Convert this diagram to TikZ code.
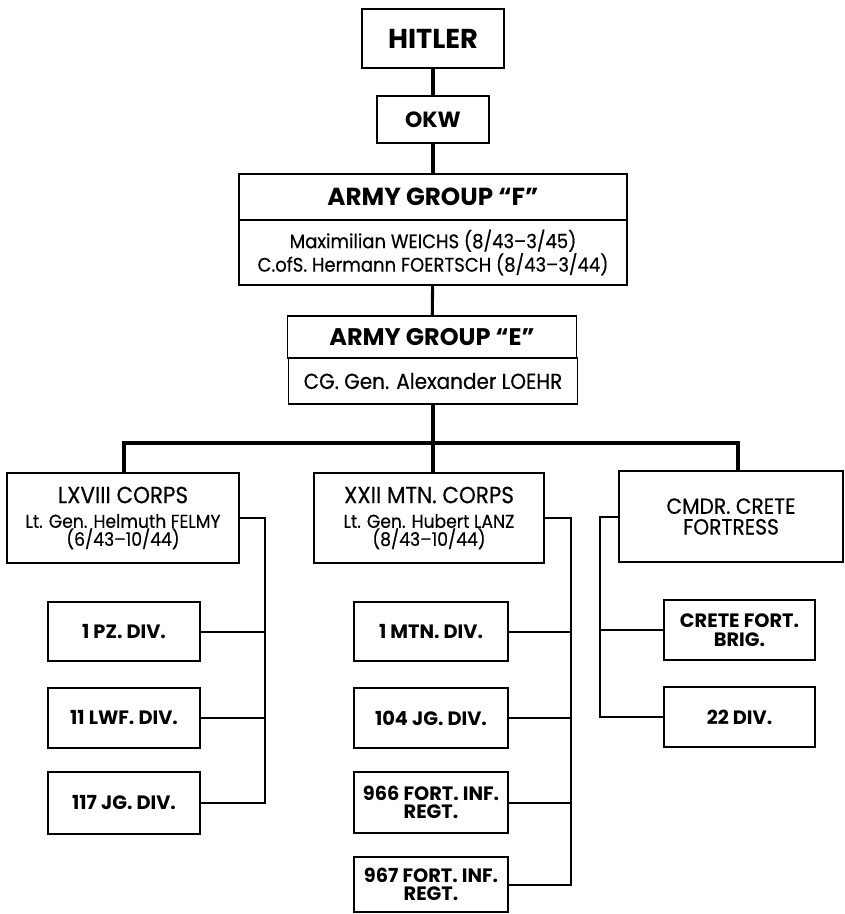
\documentclass[tikz,border=0pt]{standalone}
\usepackage{fontspec}
\setmainfont{Poppins}
\newfontfamily\cond{Poppins}
\newfontfamily\semi[FakeStretch=0.92,FakeBold=0.4]{Poppins}
\begin{document}
\begin{tikzpicture}[x=0.75pt,y=-0.75pt,
  box/.style={draw, line width=1.4pt, inner sep=0pt, outer sep=0pt, align=center},
  conn/.style={line width=1.5pt},
  thick conn/.style={line width=2.3pt},
  divtext/.style={font=\cond\bfseries\fontsize{14.5}{14}\selectfont},
  corpstext/.style={font=\semi\fontsize{14}{13.5}\selectfont}]
\useasboundingbox (0,0) rectangle (844,914);
% top stack
\node[box, minimum width=142*0.75pt, minimum height=59*0.75pt, font=\bfseries\fontsize{20.5}{20}\selectfont] (hitler) at (433,38.5) {HITLER};
\node[box, minimum width=112*0.75pt, minimum height=47*0.75pt, font=\bfseries\fontsize{16.5}{16}\selectfont] (okw) at (433,119.5) {OKW};
\node[box, minimum width=388*0.75pt, minimum height=46*0.75pt, font=\bfseries\fontsize{18.5}{18}\selectfont] (agf) at (433,197) {ARMY GROUP “F”};
\node[box, minimum width=388*0.75pt, minimum height=65*0.75pt, font=\semi\fontsize{14.7}{16.5}\selectfont, anchor=north] (agfc) at (agf.south) {Maximilian WEICHS (8/43–3/45)\\C.ofS. Hermann FOERTSCH (8/43–3/44)};
\node[box, minimum width=289*0.75pt, minimum height=42*0.75pt, font=\bfseries\fontsize{18}{18}\selectfont] (age) at (432,337) {ARMY GROUP “E”};
\node[box, minimum width=289*0.75pt, minimum height=46*0.75pt, font=\semi\fontsize{16.3}{16}\selectfont, anchor=north] (agec) at (agf.south |- age.south) {CG. Gen. Alexander LOEHR};
% corps
\node[box, minimum width=232*0.75pt, minimum height=90*0.75pt, corpstext] (lx) at (123,518) {{\fontsize{17.5}{17.5}\selectfont LXVIII CORPS}\\[5pt]Lt. Gen. Helmuth FELMY\\(6/43–10/44)};
\node[box, minimum width=230*0.75pt, minimum height=90*0.75pt, corpstext] (xx) at (429,518) {{\fontsize{17.5}{17.5}\selectfont XXII MTN. CORPS}\\[5pt]Lt. Gen. Hubert LANZ\\(8/43–10/44)};
\node[box, minimum width=224*0.75pt, minimum height=91*0.75pt, font=\semi\fontsize{16.5}{15.5}\selectfont] (cm) at (731,516.5) {CMDR. CRETE\\FORTRESS};
% left divisions
\node[box, minimum width=152*0.75pt, minimum height=59*0.75pt, divtext] (pz) at (124,631.5) {1 PZ. DIV.};
\node[box, minimum width=152*0.75pt, minimum height=60*0.75pt, divtext] (lwf) at (124,718) {11 LWF. DIV.};
\node[box, minimum width=152*0.75pt, minimum height=62*0.75pt, divtext] (jga) at (124,803) {117 JG. DIV.};
% middle divisions
\node[box, minimum width=154*0.75pt, minimum height=59*0.75pt, divtext] (mtn) at (431,631.5) {1 MTN. DIV.};
\node[box, minimum width=154*0.75pt, minimum height=60*0.75pt, divtext] (jgb) at (431,718) {104 JG. DIV.};
\node[box, minimum width=154*0.75pt, minimum height=61*0.75pt, divtext] (fa) at (431,802.5) {966 FORT. INF.\\REGT.};
\node[box, minimum width=154*0.75pt, minimum height=55*0.75pt, divtext] (fb) at (431,884.5) {967 FORT. INF.\\REGT.};
% right divisions
\node[box, minimum width=151*0.75pt, minimum height=60*0.75pt, divtext] (brig) at (739.5,630) {CRETE FORT.\\BRIG.};
\node[box, minimum width=151*0.75pt, minimum height=60*0.75pt, divtext] (dtt) at (739.5,717) {22 DIV.};
% connectors top
\draw[thick conn] (hitler) -- (okw);
\draw[thick conn] (okw) -- (agf);
\draw[thick conn] (agfc) -- (age);
\coordinate (b1) at (124,443);
\coordinate (b3) at (738,443);
\draw[thick conn] (agec.south) -- (agec.south |- xx.north);
\draw[thick conn] (b1 |- lx.north) -- (b1) -- (b3) -- (b3 |- cm.north);
% left corps
\coordinate (sl) at (265,518);
\draw[conn] (lx.east) -- (sl) |- (jga.east);
\draw[conn] (pz.east) -- (pz.east -| sl);
\draw[conn] (lwf.east) -- (lwf.east -| sl);
% middle corps
\coordinate (sm) at (571,518);
\draw[conn] (xx.east) -- (sm) |- (fb.east);
\draw[conn] (mtn.east) -- (mtn.east -| sm);
\draw[conn] (jgb.east) -- (jgb.east -| sm);
\draw[conn] (fa.east) -- (fa.east -| sm);
% right
\coordinate (sr) at (600,516.5);
\draw[conn] (cm.west) -- (sr) |- (dtt.west);
\draw[conn] (brig.west) -- (brig.west -| sr);
\end{tikzpicture}
\end{document}
